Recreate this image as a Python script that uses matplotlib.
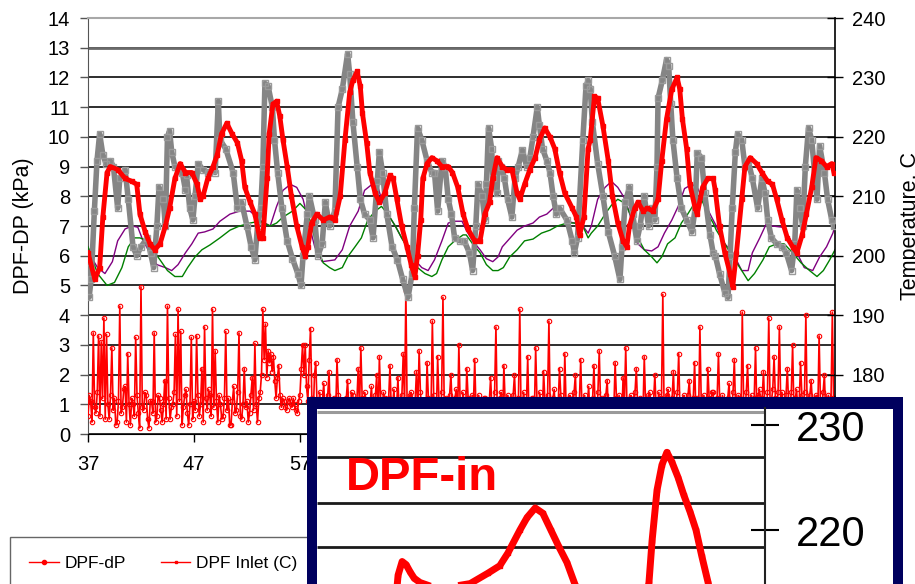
import numpy as np
import matplotlib
matplotlib.use("Agg")
import matplotlib.pyplot as plt
from matplotlib.lines import Line2D

plt.rcParams['font.family'] = ['Liberation Sans', 'DejaVu Sans']

# === Data ===
# DPF-dP (kPa), sampled every 0.125 time units from 37
dp_start = 37.0
dp_step = 0.125
dp_kpa = [
    0.6, 1.3, 1.1, 0.4, 3.4, 0.9, 0.7, 1.4, 3.3, 0.6, 3.1, 1.2, 3.9, 0.5, 3.35, 1.0, 0.5, 1.3, 2.9, 0.8,
    1.2, 0.3, 0.4, 1.1, 4.3, 0.7, 0.9, 1.5, 1.6, 0.4, 2.7, 1.0, 0.3, 1.2, 1.0, 0.6, 3.25, 1.3, 0.7, 0.2,
    4.95, 0.9, 0.8, 1.4, 1.3, 0.5, 0.2, 1.1, 1.1, 0.7, 3.4, 0.4, 0.6, 1.3, 1.2, 0.8, 0.4, 1.0, 1.8, 0.5,
    4.3, 1.2, 0.5, 0.9, 1.0, 1.4, 3.35, 0.6, 4.2, 1.1, 3.45, 0.3, 0.9, 1.3, 1.5, 0.7, 0.3, 1.0, 3.25, 0.5,
    1.1, 0.8, 3.3, 1.3, 0.6, 1.0, 2.2, 0.4, 3.6, 1.2, 0.8, 1.5, 1.3, 0.6, 4.2, 0.9, 2.8, 1.1, 0.4, 1.3,
    1.0, 0.5, 0.6, 1.2, 3.45, 0.8, 1.2, 0.3, 0.3, 1.1, 1.6, 0.7, 0.8, 1.4, 3.4, 0.6, 0.5, 1.0, 2.2, 0.9,
    1.1, 0.4, 0.7, 1.3, 1.9, 0.8, 3.05, 1.0, 0.4, 1.2, 1.4, 2.0, 4.2, 2.5, 3.7, 1.9, 2.8, 2.4, 2.7, 2.1,
    2.6, 1.8, 1.2, 1.9, 2.3, 1.3, 0.9, 1.2, 1.1, 0.9, 0.8, 1.1, 1.2, 1.0, 0.9, 1.2, 1.0, 0.8, 0.7, 1.1,
    1.3, 2.2, 3.0, 2.0, 3.0, 1.6, 1.1, 2.5, 3.55, 1.2, 0.5, 2.0, 2.4, 0.9, 1.0, 1.4, 0.3, 1.1, 1.7, 0.6,
    0.9, 1.3, 2.1, 0.5, 0.4, 1.1, 1.2, 0.7, 2.5, 1.3, 0.6, 1.0, 1.0, 0.4, 0.2, 1.2, 1.8, 0.8, 0.9, 1.4,
    1.3, 0.6, 0.5, 1.1, 2.2, 0.8, 2.9, 1.2, 0.7, 1.4, 1.1, 0.5, 0.3, 1.0, 1.6, 0.7, 0.9, 1.3, 2.0, 0.4,
    2.6, 1.1, 0.6, 1.4, 1.2, 0.3, 0.4, 1.2, 2.3, 0.8, 1.0, 1.5, 0.5, 0.9, 1.9, 0.6, 0.8, 1.3, 2.7, 1.0,
    4.8, 0.7, 0.9, 1.3, 1.4, 0.5, 0.3, 1.1, 2.1, 0.8, 2.8, 1.4, 0.7, 1.0, 1.1, 0.4, 2.4, 1.2, 0.5, 0.9,
    3.8, 1.3, 1.0, 0.6, 2.6, 1.1, 0.4, 1.4, 4.6, 0.8, 1.2, 0.5, 0.6, 1.3, 2.0, 0.9, 0.9, 1.2, 1.5, 0.4,
    3.0, 1.0, 0.3, 1.4, 1.1, 0.6, 2.2, 1.2, 0.8, 0.4, 1.3, 1.0, 2.5, 0.7, 0.5, 1.3, 1.0, 0.6, 0.7, 1.2,
    1.2, 0.5, 0.4, 1.1, 1.9, 0.8, 0.9, 1.4, 3.6, 0.7, 0.6, 1.2, 1.4, 0.4, 2.3, 1.0, 0.3, 1.3, 1.0, 0.6,
    0.8, 1.3, 2.0, 0.9, 0.5, 1.2, 4.2, 0.6, 1.1, 1.4, 0.7, 1.0, 2.6, 0.5, 0.4, 1.2, 1.2, 0.7, 2.9, 1.1,
    0.6, 1.4, 1.0, 0.5, 2.1, 1.1, 0.3, 1.3, 3.8, 0.8, 0.9, 1.2, 1.5, 0.6, 0.5, 1.0, 2.2, 1.3, 1.1, 0.4,
    2.7, 0.9, 0.4, 1.2, 1.3, 0.7, 0.8, 1.4, 2.0, 0.5, 0.6, 1.1, 2.5, 0.8, 1.0, 1.3, 0.3, 1.0, 1.6, 0.6,
    0.9, 1.2, 2.3, 0.7, 0.5, 1.4, 2.8, 1.0, 1.2, 0.4, 0.7, 1.3, 1.8, 0.6, 0.4, 1.1, 1.1, 0.8, 2.4, 1.2,
    0.6, 1.3, 1.0, 0.5, 1.9, 1.1, 2.9, 0.8, 0.4, 1.2, 1.3, 0.6, 0.8, 1.4, 2.2, 0.9, 0.5, 1.2, 1.1, 0.7,
    2.6, 1.0, 0.7, 1.3, 1.4, 0.5, 0.3, 1.1, 2.0, 0.8, 1.0, 1.4, 0.6, 1.2, 4.7, 0.7, 0.9, 1.3, 1.5, 0.5,
    0.4, 1.2, 2.1, 0.8, 1.1, 1.4, 2.7, 0.6, 0.7, 1.1, 1.3, 0.4, 0.5, 1.3, 1.8, 0.9, 0.9, 1.2, 2.4, 0.7,
    1.2, 0.6, 3.6, 1.1, 0.4, 1.3, 1.0, 0.5, 2.2, 1.2, 0.6, 1.4, 1.4, 0.7, 0.8, 1.2, 2.7, 1.0, 0.5, 1.3,
    1.1, 0.6, 0.3, 1.2, 1.7, 0.8, 0.9, 1.4, 2.5, 0.7, 0.6, 1.3, 1.2, 0.5, 4.1, 1.1, 0.8, 1.4, 2.3, 0.9,
    1.0, 1.3, 0.4, 1.2, 2.9, 0.8, 1.3, 1.5, 0.7, 1.2, 2.1, 0.9, 0.5, 1.4, 3.9, 1.0, 1.1, 1.5, 2.6, 1.2,
    0.8, 1.4, 3.6, 1.1, 1.4, 0.6, 0.5, 1.3, 2.2, 1.0, 0.9, 1.4, 3.0, 0.7, 1.2, 1.5, 0.6, 1.1, 2.4, 1.3,
    1.0, 1.4, 4.0, 0.8, 0.7, 1.3, 1.8, 1.0, 0.4, 1.2, 1.3, 0.7, 3.3, 1.1, 0.8, 1.4, 2.0, 0.6, 1.1, 1.3,
    0.6, 1.2, 4.1, 0.9, 1.2, 0.5, 0.9, 1.1,
]

# DPF inlet temperature (C)
inlet_t = [37.0, 37.65, 38.1, 38.4, 38.8, 39.1, 39.8, 40.5, 41.15, 41.6, 41.9, 42.4,
           42.85, 43.3, 43.8, 44.3, 44.7, 45.2, 45.7, 46.2, 46.8, 47.3, 47.6, 47.85,
           48.3, 48.8, 49.2, 49.6, 50.1, 50.6, 51.1, 51.5, 51.8, 52.3, 52.75, 53.2,
           53.5, 53.9, 54.1, 54.45, 54.8, 55.1, 55.4, 55.8, 56.2, 56.7, 57.2, 57.5,
           57.75, 58.1, 58.6, 59.2, 59.8, 60.3, 60.8, 61.25, 61.7, 62.0, 62.4, 62.7,
           62.9, 63.3, 63.6, 64.1, 64.5, 65.0, 65.5, 65.8, 66.15, 66.6, 67.1, 67.5,
           67.85, 68.1, 68.4, 68.6, 69.0, 69.45, 69.9, 70.4, 71.0, 71.4, 71.9, 72.4,
           72.85, 73.5, 74.0, 74.45, 74.9, 75.2, 75.6, 76.1, 76.5, 77.0, 77.5, 77.75,
           78.2, 78.7, 79.2, 79.6, 80.1, 80.6, 81.05, 81.5, 82.0, 82.7, 83.1, 83.4,
           83.8, 84.2, 84.4, 84.8, 85.1, 85.6, 86.1, 86.5, 87.0, 87.5, 87.85, 88.1,
           88.6, 88.9, 89.4, 89.8, 90.3, 90.8, 91.15, 91.6, 92.1, 92.6, 92.85, 93.1,
           93.5, 93.8, 94.3, 94.5, 95.0, 95.5, 96.0, 96.2, 96.6, 97.1, 97.6, 97.85,
           98.2, 98.7, 99.0, 99.5, 100.1, 100.6, 101.15, 101.6, 102.0, 102.5, 103.0, 103.5,
           103.9, 104.4, 104.8, 105.3, 105.7, 106.2, 106.7, 107.2, 107.4]
inlet_c = [200.5, 196, 198, 206.5, 214, 215, 214.5, 213, 212.5, 212, 207, 204,
           202, 201, 202, 205, 208, 213, 215.5, 214, 214, 212, 209.5, 210,
           213, 215, 217, 220.5, 222.3, 220.5, 219, 216, 211.5, 209, 207, 203,
           203, 213, 220.5, 225.5, 226, 223.5, 219.5, 215, 210, 205, 201.5, 200,
           201.5, 205.5, 207, 206, 206.5, 206, 210, 219.5, 227.5, 229.5, 231, 228.5,
           224, 219, 214, 210.5, 209, 210.5, 213.5, 213, 209.5, 205, 201.5, 198.5,
           196.5, 200, 206, 213, 215.5, 216.5, 216, 215, 215, 214, 211.5, 207,
           204.5, 202.5, 202.5, 207, 209, 213, 216.5, 215, 214.5, 214.5, 210.5, 209.5,
           212, 214.5, 216.5, 219.5, 221.5, 220, 218, 214, 210.5, 208, 206.5, 203.5,
           206.5, 218, 219.5, 226.8, 226.5, 221.8, 216, 210, 205.5, 202.5, 201.5, 205,
           208, 209, 207.5, 208, 207.5, 209.5, 216, 223, 228, 230, 228, 223,
           218, 212, 208, 207, 211.5, 213, 213, 211, 205, 200.5, 197, 194.8,
           200.5, 209.5, 215, 216.5, 215.5, 214, 212.5, 212, 209.5, 206, 203, 201.5,
           200.5, 203.5, 207, 211.5, 216.5, 216, 215, 215.5, 214]

# DPF outlet temperature (C), grey trace
outlet_t = [37.0, 37.1, 37.3, 37.6, 37.85, 38.1, 38.4, 38.7, 39.1, 39.4, 39.8, 40.0,
            40.5, 40.8, 41.25, 41.6, 42.0, 42.6, 42.9, 43.2, 43.5, 43.7, 44.1, 44.3,
            44.5, 44.7, 44.9, 45.2, 45.9, 46.2, 46.3, 46.6, 46.9, 47.1, 47.4, 47.85,
            48.3, 48.8, 49.0, 49.3, 49.45, 50.0, 50.7, 51.1, 51.5, 52.0, 52.4, 52.75,
            53.0, 53.3, 53.5, 53.7, 54.0, 54.4, 54.6, 54.9, 55.3, 55.8, 56.3, 56.8,
            57.1, 57.3, 57.7, 57.9, 58.4, 58.7, 59.1, 59.4, 59.8, 60.3, 60.6, 61.0,
            61.5, 61.7, 62.0, 62.4, 62.7, 63.1, 63.6, 63.9, 64.3, 64.5, 64.8, 65.2,
            65.7, 66.2, 66.7, 67.2, 67.6, 67.8, 68.1, 68.5, 69.0, 69.45, 69.7, 70.0,
            70.4, 70.7, 71.0, 71.3, 71.6, 72.1, 72.5, 73.0, 73.3, 73.6, 73.8, 74.2,
            74.45, 74.6, 74.8, 75.1, 75.2, 75.6, 75.7, 76.0, 76.3, 76.6, 77.0, 77.3,
            77.6, 78.0, 78.4, 78.7, 79.0, 79.4, 79.6, 79.9, 80.3, 80.6, 80.9, 81.2,
            81.5, 82.2, 82.7, 82.9, 83.2, 83.7, 84.0, 84.2, 84.4, 84.6, 85.1, 85.6,
            86.1, 86.7, 87.2, 87.4, 87.7, 88.1, 88.4, 88.8, 89.1, 89.5, 89.9, 90.2,
            90.5, 90.7, 90.8, 91.2, 91.6, 91.8, 92.0, 92.2, 92.6, 93.0, 93.5, 94.0,
            94.3, 94.5, 94.9, 95.2, 95.7, 96.0, 96.2, 96.6, 97.1, 97.4, 97.6, 97.8,
            98.1, 98.3, 98.7, 99.0, 99.3, 99.7, 100.2, 100.6, 100.9, 101.15, 101.5, 102.0,
            102.5, 102.9, 103.4, 103.7, 103.9, 104.2, 104.45, 104.7, 105.0, 105.3, 105.8, 106.05,
            106.5, 106.8, 107.2, 107.4]
outlet_c = [199, 193, 196, 207.5, 216, 220.5, 217, 215.5, 216, 215, 208, 213,
            214.5, 209.5, 201.5, 200, 201.5, 203, 200.5, 198, 205, 211.5, 209.5, 205,
            220, 221, 217.5, 215, 214, 211, 213.5, 208, 206, 210, 215.5, 214.5,
            214, 214.5, 214, 226, 219.5, 218, 214, 208, 209, 205, 201.5, 199.3,
            205, 208, 215, 229, 228.5, 225, 219.5, 214, 208, 202.5, 199.5, 197,
            195, 200, 207, 210, 206, 200, 202, 209, 205, 207.5, 225, 228,
            234, 230.5, 222.5, 215, 209.5, 207, 206, 203, 212.5, 217.5, 214, 207,
            201.5, 199.3, 196, 193, 197, 208, 221.5, 219.5, 216, 214, 214, 207.5,
            216, 215, 209.5, 207, 203, 202.5, 202.5, 200.5, 197.5, 205, 212, 210,
            206, 212, 221.5, 218, 213, 210.5, 216, 215, 213, 209.5, 206.5, 213,
            215, 217.8, 215, 216.5, 220, 225, 222, 218, 216, 214, 210, 207,
            208, 206, 202.5, 200.5, 203, 219.5, 228.5, 229.5, 228, 222.5, 215.5, 210,
            204, 200, 196, 201.5, 209, 211.5, 207, 202.5, 205, 210, 205, 208,
            206, 215, 226.5, 229.5, 233, 232, 225.5, 219.5, 213, 208, 206, 204,
            208, 217.3, 216.5, 210.5, 203.5, 200.5, 200, 197, 193.8, 193, 200, 208,
            217.5, 220.5, 219.5, 215, 216, 213, 208, 213, 210.5, 206, 203, 202,
            201.5, 200.5, 197.5, 202, 211, 208, 205, 215, 221.5, 219.5, 209.5, 218.5,
            214, 209.5, 206, 205]

# purple trace (C)
purple_t = [37.0, 37.4, 37.9, 38.6, 39.3, 39.8, 40.5, 41.15, 41.7, 42.2, 42.85, 43.5,
            44.3, 44.9, 45.5, 46.2, 46.8, 47.4, 48.0, 48.8, 49.45, 50.4, 51.3, 52.3,
            53.2, 54.2, 54.8, 55.4, 56.1, 56.7, 57.3, 57.9, 58.4, 59.1, 60.3, 61.0,
            61.7, 62.5, 63.1, 63.8, 64.3, 64.7, 65.3, 66.0, 66.6, 67.2, 67.85, 68.5,
            69.1, 69.7, 70.4, 71.0, 71.6, 72.3, 72.7, 73.3, 74.0, 74.6, 75.2, 75.7,
            76.1, 76.6, 77.5, 78.2, 79.0, 79.6, 80.3, 80.9, 81.5, 82.2, 82.9, 83.7,
            84.2, 84.5, 85.1, 85.8, 86.4, 87.0, 87.7, 88.3, 88.9, 89.5, 90.2, 90.8,
            91.4, 92.1, 92.7, 93.3, 94.0, 94.5, 95.2, 96.0, 96.3, 97.1, 97.85, 98.7,
            99.3, 99.7, 100.4, 101.05, 101.6, 102.5, 103.2, 103.9, 104.6, 105.4, 106.05, 106.7,
            107.3, 107.5]
purple_c = [201.5, 199.5, 198, 197, 199, 202.5, 204.5, 205, 204.8, 202.5, 200.5, 198.5,
            198, 197.5, 198.5, 200.5, 202, 203.8, 204, 204.5, 205.8, 207, 207.5, 207.5,
            206, 205, 208.3, 211, 212, 211.5, 209.5, 205, 201.5, 199, 199.3, 201,
            205, 207.5, 211, 212, 212, 209.5, 207, 205, 203, 201.5, 199.3, 198,
            197.5, 199.3, 202.5, 205.5, 205.8, 205.8, 204.3, 202.5, 201, 199.5, 199, 199.8,
            201.5, 202.5, 204.3, 205, 205.5, 206.5, 207, 208, 208, 205.8, 205.5, 205,
            203.8, 205, 209.5, 211.5, 212.5, 211.5, 209.5, 206, 202, 201, 200.8, 201.5,
            203.8, 206, 208.3, 211.3, 212, 211.5, 208.8, 206, 205, 202, 200.5, 197.5,
            197.5, 200.5, 203, 205.5, 205, 204.8, 203, 200.5, 198, 197.5, 199.8, 201.5,
            203.8, 205]

# green trace (C)
green_t = [37.0, 37.4, 37.9, 38.8, 39.5, 40.2, 40.8, 41.4, 41.9, 42.6, 43.1, 43.8,
           44.5, 45.2, 45.9, 46.4, 47.1, 47.75, 48.5, 49.45, 50.4, 51.3, 52.3, 53.2,
           54.2, 54.8, 55.4, 56.3, 57.0, 57.7, 58.1, 58.6, 59.2, 59.8, 60.3, 61.0,
           61.5, 62.2, 62.8, 63.4, 64.1, 64.7, 65.3, 66.0, 66.6, 67.4, 68.1, 68.8,
           69.45, 69.9, 70.4, 71.0, 71.6, 72.4, 72.7, 73.3, 74.0, 74.6, 75.2, 75.7,
           76.2, 76.8, 77.5, 78.2, 79.0, 79.8, 80.6, 81.3, 82.2, 82.9, 83.7, 84.2,
           84.5, 85.1, 85.8, 86.4, 87.0, 87.7, 88.3, 88.9, 89.5, 90.2, 90.7, 91.15,
           91.7, 92.4, 93.0, 93.6, 94.3, 94.9, 95.5, 96.0, 96.3, 97.1, 97.85, 98.7,
           99.3, 99.9, 100.7, 101.3, 102.0, 102.7, 103.5, 104.3, 105.1, 105.8, 106.4, 107.0,
           107.5]
green_c = [201.5, 199.5, 197, 195, 195.5, 198, 201.5, 203, 203, 202.5, 201, 199.3,
           197.5, 196.5, 196.5, 198, 199.8, 201, 201.8, 203, 204.3, 205, 205.5, 205.8,
           205, 205.5, 206.5, 207.5, 208.8, 207.5, 205, 201.5, 198.8, 198, 197.5, 198,
           199.8, 201.5, 203, 206, 207.5, 208.3, 207, 205, 203, 200.5, 198, 197,
           196.5, 197, 199.3, 201.5, 202.5, 203.5, 203.5, 202, 200.5, 198.5, 197.5, 197.5,
           198, 199.8, 201, 202.5, 202.8, 203.8, 204.3, 205, 205.5, 205.5, 205, 203,
           203.8, 205, 207, 208.5, 209.5, 208.8, 206.5, 203, 201, 199.8, 198.8, 199.8,
           202, 203, 205.5, 207, 209, 209.5, 207, 205.5, 204.3, 202, 199.8, 197.5,
           195.8, 197, 199.3, 201.5, 202, 202, 200.5, 198.8, 197.5, 196.5, 197.5, 199.3,
           201]

# inset: zoomed DPF-in trace (arbitrary time units 0-100)
zoom_t = [17.6, 18.1, 19.0, 19.9, 20.8, 21.7, 23.0, 25.0, 28.6, 34.2, 38.2, 40.8,
          42.6, 45.3, 46.9, 48.7, 50.4, 52.2, 54.0, 55.8, 57.6, 59.2, 66.0, 73.2,
          74.1, 74.8, 75.9, 77.0, 78.1, 79.2, 80.6, 81.9, 83.3, 84.6, 85.9, 87.3, 88.2]
zoom_c = [213.3, 215.7, 217.0, 216.7, 216.0, 215.4, 215.0, 214.7, 214.5, 214.9, 215.9, 216.6,
          217.8, 220.0, 221.2, 222.1, 221.6, 220.0, 218.4, 216.9, 214.8, 212.9, 208.0, 212.9,
          215.0, 219.0, 223.8, 226.2, 227.4, 226.5, 225.0, 223.3, 221.7, 220.0, 217.5, 215.0, 212.9]

# only the first three x labels are left uncovered by the inset
x_ticks = [37, 47, 57]

# === Figure ===
W, H = 915, 584
fig = plt.figure(figsize=(W / 100, H / 100), dpi=100)
ax = fig.add_axes([88 / W, 1 - 434 / H, 747 / W, 416 / H])

dp_x = dp_start + dp_step * np.arange(len(dp_kpa))
ax.plot(dp_x, dp_kpa, color='red', lw=1.2, marker='o', ms=3.2,
        mfc='none', mec='red', mew=0.8, zorder=3)

ax.set_xlim(37, 107.5)
ax.set_ylim(0, 14)
ax.set_yticks(range(0, 15))
ax.set_xticks(x_ticks)
ax.yaxis.grid(True, color='#1e1e1e', lw=1.3)
ax.set_axisbelow(True)
ax.axhline(13, color='#6a6a6a', lw=2.0, zorder=1)
ax.spines['top'].set_color('#a8a8a8')
ax.spines['top'].set_linewidth(1.5)
ax.spines['left'].set_color('#555555')
ax.spines['bottom'].set_color('black')
ax.spines['right'].set_visible(False)
ax.tick_params(axis='y', direction='out', length=6, width=1, labelsize=14.5, pad=7,
               color='#555555')
ax.tick_params(axis='x', direction='out', length=6, width=1, labelsize=14.5, pad=9)
ax.set_ylabel('DPF-DP (kPa)', fontsize=15.5, labelpad=10)

ax2 = ax.twinx()
ax2.plot(purple_t, purple_c, color='#800080', lw=1.0, zorder=2)
ax2.plot(green_t, green_c, color='#008000', lw=1.0, zorder=2)
ax2.plot(outlet_t, outlet_c, color='#858585', lw=4.0, marker='s', ms=4,
         mfc='none', mec='#9a9a9a', mew=1.0, zorder=3)
ax2.plot(inlet_t, inlet_c, color='red', lw=3.5, marker='s', ms=3,
         mec='red', zorder=4)
ax2.set_ylim(170, 240)
ax2.set_yticks(range(180, 241, 10))
for s in ['left', 'top', 'bottom']:
    ax2.spines[s].set_visible(False)
ax2.spines['right'].set_color('black')
ax2.spines['right'].set_linewidth(1.2)
ax2.tick_params(axis='y', direction='inout', length=12, width=1, labelsize=14.5, pad=6)
ax2.set_ylabel('Temperature, C', fontsize=15.5, labelpad=11)

# legend (bottom part of the figure is cut off)
handles = [Line2D([], [], color='red', lw=1, marker='o', ms=3),
           Line2D([], [], color='red', lw=1, marker='s', ms=2)]
fig.legend(handles, ['DPF-dP', 'DPF Inlet (C)'], loc='upper left',
           bbox_to_anchor=(10 / W, 1 - 537 / H), ncol=2, fontsize=12.5,
           frameon=True, fancybox=False, edgecolor='#404040', borderpad=1.1,
           handlelength=1.7, handletextpad=0.35, columnspacing=2.0,
           borderaxespad=0)

# inset: navy frame with zoomed DPF-in trace
frame = fig.add_axes([307 / W, -0.1, (903 - 307) / W, 0.1 + 1 - 397 / H], zorder=10)
frame.set_facecolor('#00005e')
frame.set_xticks([]); frame.set_yticks([])
for s in frame.spines.values():
    s.set_visible(False)
inner = fig.add_axes([317 / W, -0.1, (893 - 317) / W, 0.1 + 1 - 409 / H], zorder=11)
inner.set_facecolor('white')
inner.set_xticks([]); inner.set_yticks([])
for s in inner.spines.values():
    s.set_visible(False)

ax_in = fig.add_axes([317 / W, 1 - 620 / H, 448 / W, 212 / H], zorder=12)
ax_in.set_facecolor('none')
ax_in.set_xlim(0, 100)
ax_in.set_ylim(211.43, 231.62)
ax_in.hlines([231.2], 0, 100, colors='#9a9a9a', lw=2.2)
ax_in.hlines([227.0, 222.6, 218.4], 0, 100, colors='#1a1a1a', lw=2.0)
ax_in.plot(zoom_t, zoom_c, color='red', lw=5, marker='s', ms=3.5, zorder=3)
ax_in.text(6.5, 225.0, 'DPF-in', color='red', fontsize=34, fontweight='bold',
           va='center', ha='left')
for s in ['left', 'top', 'bottom']:
    ax_in.spines[s].set_visible(False)
ax_in.spines['right'].set_color('#222222')
ax_in.spines['right'].set_linewidth(1.5)
ax_in.set_xticks([])
ax_in.yaxis.tick_right()
ax_in.set_yticks([220, 230])
ax_in.tick_params(axis='y', direction='inout', length=20, width=1.5, labelsize=30, pad=12)

fig.savefig('out.png', dpi=100)
